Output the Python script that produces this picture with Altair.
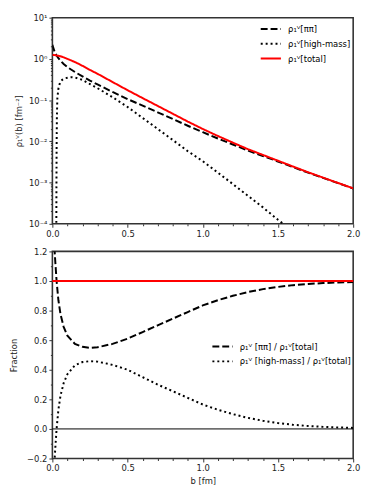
import altair as alt
import pandas as pd

FONT = "DejaVu Sans"

# ---------------- data ----------------
b_top = [0.0, 0.005, 0.01, 0.015, 0.02, 0.028, 0.04, 0.054, 0.075, 0.1, 0.15, 0.2, 0.25, 0.3,
         0.4, 0.5, 0.6, 0.7, 0.8, 0.9, 1.0, 1.1, 1.2, 1.3, 1.4, 1.5, 1.6, 1.7, 1.8, 1.9, 2.0]
rho_total = [1.25, 1.248, 1.242, 1.235, 1.225, 1.21, 1.19, 1.16, 1.09, 1.0, 0.84, 0.68, 0.54, 0.436,
             0.275, 0.174, 0.112, 0.0724, 0.0468, 0.0302, 0.01995, 0.0135, 0.0093, 0.00646, 0.00468,
             0.00339, 0.00245, 0.00178, 0.00132, 0.000977, 0.000724]
rho_pipi = [2.2, 1.9, 1.68, 1.48, 1.37, 1.21, 1.04, 0.9, 0.75, 0.63, 0.48, 0.377, 0.296, 0.241,
            0.158, 0.106, 0.0734, 0.0507, 0.0349, 0.0239, 0.01666, 0.01174, 0.0084, 0.00597, 0.00442,
            0.00325, 0.00238, 0.00174, 0.0013, 0.000967, 0.000719]

b_high = [0.0262, 0.027, 0.028, 0.03, 0.033, 0.04, 0.05, 0.065, 0.087, 0.11, 0.13, 0.15, 0.2, 0.25,
          0.3, 0.4, 0.5, 0.6, 0.7, 0.8, 0.9, 1.0, 1.1, 1.2, 1.3, 1.4, 1.5, 1.55]
rho_high = [0.00008, 0.0008, 0.006, 0.04, 0.11, 0.19, 0.26, 0.31, 0.34, 0.355, 0.36, 0.355, 0.31, 0.245,
            0.195, 0.118, 0.068, 0.037, 0.020, 0.0108, 0.0058, 0.0033, 0.00175, 0.00092, 0.00048,
            0.00025, 0.000125, 0.00009]

b_frac = [0.0, 0.005, 0.01, 0.015, 0.02, 0.028, 0.04, 0.054, 0.075, 0.1, 0.15, 0.2, 0.25, 0.3,
          0.4, 0.5, 0.6, 0.7, 0.8, 0.9, 1.0, 1.1, 1.2, 1.3, 1.4, 1.5, 1.6, 1.7, 1.8, 1.9, 2.0]
frac_pipi = [1.76, 1.52, 1.35, 1.2, 1.12, 1.0, 0.87, 0.775, 0.69, 0.63, 0.575, 0.555, 0.548, 0.552,
             0.575, 0.61, 0.655, 0.70, 0.745, 0.79, 0.835, 0.87, 0.90, 0.925, 0.945, 0.96, 0.972,
             0.98, 0.986, 0.99, 0.993]
frac_high = [-0.76, -0.52, -0.35, -0.2, -0.12, 0.0, 0.13, 0.225, 0.31, 0.37, 0.43, 0.452, 0.458, 0.455,
             0.433, 0.40, 0.35, 0.30, 0.255, 0.21, 0.165, 0.13, 0.10, 0.075, 0.055, 0.04, 0.028,
             0.02, 0.014, 0.01, 0.007]
frac_total = [1.0]
zero_level = [0.0]

top_names = ["ρ₁ⱽ[ππ]", "ρ₁ⱽ[high-mass]", "ρ₁ⱽ[total]"]
bot_names = ["ρ₁ⱽ [ππ] / ρ₁ⱽ[total]", "ρ₁ⱽ [high-mass] / ρ₁ⱽ[total]"]

x_major = [0.0, 0.5, 1.0, 1.5, 2.0]
x_minor = [0.1, 0.2, 0.3, 0.4, 0.6, 0.7, 0.8, 0.9, 1.1, 1.2, 1.3, 1.4, 1.6, 1.7, 1.8, 1.9]
y_log_major = [1e-4, 1e-3, 1e-2, 1e-1, 1.0, 10.0]
y_log_minor = [k * 10.0 ** e for e in range(-4, 1) for k in range(2, 10)]
y_frac_major = [-0.2, 0.0, 0.2, 0.4, 0.6, 0.8, 1.0, 1.2]
y_frac_minor = [-0.1, 0.1, 0.3, 0.5, 0.7, 0.9, 1.1]

# ---------------- tables ----------------
rows = []
for b, v in zip(b_top, rho_pipi):
    rows.append({"b": b, "v": v, "s": top_names[0]})
for b, v in zip(b_high, rho_high):
    rows.append({"b": b, "v": v, "s": top_names[1]})
for b, v in zip(b_top, rho_total):
    rows.append({"b": b, "v": v, "s": top_names[2]})
df_top = pd.DataFrame(rows)

rows = []
for b, v in zip(b_frac, frac_pipi):
    rows.append({"bb": b, "f": v, "r": bot_names[0]})
for b, v in zip(b_frac, frac_high):
    rows.append({"bb": b, "f": v, "r": bot_names[1]})
df_bot = pd.DataFrame(rows)

xscale = alt.Scale(domain=[0, 2], nice=False, zero=False)
yscale_top = alt.Scale(type="log", domain=[1e-4, 10], nice=False)
yscale_bot = alt.Scale(domain=[-0.2, 1.2], nice=False, zero=False)

x_axis_major = alt.Axis(values=x_major, format=".1f", tickSize=3.5, title=None, orient="bottom",
                        labelOverlap=False, labelFlush=False)
x_axis_minor = alt.Axis(values=x_minor, labels=False, tickSize=2, title=None, orient="bottom")

log_expr = ("datum.value >= 5 ? '10¹' : datum.value >= 0.5 ? '10⁰' : datum.value >= 0.05 ? '10⁻¹' : "
            "datum.value >= 0.005 ? '10⁻²' : datum.value >= 0.0005 ? '10⁻³' : '10⁻⁴'")

leg_top = alt.Legend(title=None, orient="none", legendX=210, legendY=6, symbolType="stroke",
                     symbolSize=420, symbolStrokeWidth=2, labelFont=FONT, labelFontSize=8.5,
                     labelFontWeight="normal", rowPadding=4, clipHeight=11, padding=0,
                     labelOffset=6, labelLimit=300)

color_top = alt.Color("s:N", scale=alt.Scale(domain=top_names, range=["black", "black", "red"]),
                      legend=leg_top)
dash_top = alt.StrokeDash("s:N", scale=alt.Scale(domain=top_names, range=[[7, 3], [2, 3], [1, 0]]),
                          legend=leg_top)

top_lines = alt.layer(*[
    alt.Chart(df_top).transform_filter(alt.datum.s == n).mark_line(strokeWidth=2, clip=True).encode(
        x=alt.X("b:Q", scale=xscale, axis=x_axis_major),
        y=alt.Y("v:Q", scale=yscale_top,
                axis=alt.Axis(values=y_log_major, labelExpr=log_expr, tickSize=3.5,
                              title="ρ₁ⱽ(b) [fm⁻²]", titlePadding=5, orient="left",
                              labelOverlap=False, labelFlush=False)),
        color=color_top,
        strokeDash=dash_top,
    )
    for n in top_names
])

top_minor = alt.Chart(df_top).mark_point(opacity=0).encode(
    x=alt.X("b:Q", scale=xscale, axis=x_axis_minor),
    y=alt.Y("v:Q", scale=yscale_top,
            axis=alt.Axis(values=y_log_minor, labels=False, tickSize=2, title=None, orient="left")),
)

top = alt.layer(top_lines, top_minor).resolve_axis(x="independent", y="independent").properties(
    width=305, height=209)

# ---------------- bottom ----------------
leg_bot = alt.Legend(title=None, orient="none", legendX=161, legendY=91, symbolType="stroke",
                     symbolSize=420, symbolStrokeWidth=2, symbolStrokeColor="black",
                     labelFont=FONT, labelFontSize=8.5, labelFontWeight="normal", rowPadding=4,
                     clipHeight=11, padding=0, labelOffset=6, labelLimit=300)
dash_bot = alt.StrokeDash("r:N", scale=alt.Scale(domain=bot_names, range=[[7, 3], [2, 3]]),
                          legend=leg_bot)

y_bot = alt.Y("f:Q", scale=yscale_bot,
              axis=alt.Axis(values=y_frac_major, format=".1f", tickSize=3.5, title="Fraction",
                            labelExpr="replace(datum.label, '-', '−')", titlePadding=8,
                            orient="left", labelOverlap=False, labelFlush=False))
x_bot = alt.X("bb:Q", scale=xscale,
              axis=alt.Axis(values=x_major, format=".1f", tickSize=3.5, title="b [fm]",
                            titlePadding=4, orient="bottom", labelOverlap=False, labelFlush=False))

zero_line = alt.Chart(pd.DataFrame({"f": zero_level})).mark_rule(color="black", strokeWidth=1).encode(
    y=y_bot)
one_line = alt.Chart(pd.DataFrame({"f": frac_total})).mark_rule(color="red", strokeWidth=2).encode(
    y=y_bot)

bot_lines = alt.layer(
    alt.Chart(df_bot).mark_line(strokeWidth=2, clip=True, color="black").encode(
        x=x_bot,
        y=y_bot,
        strokeDash=dash_bot,
        detail="r:N",
    ),
    zero_line,
    one_line,
)

bot_minor = alt.Chart(df_bot).mark_point(opacity=0).encode(
    x=alt.X("bb:Q", scale=xscale, axis=x_axis_minor),
    y=alt.Y("f:Q", scale=yscale_bot,
            axis=alt.Axis(values=y_frac_minor, labels=False, tickSize=2, title=None, orient="left")),
)

bottom = alt.layer(bot_lines, bot_minor).resolve_axis(x="independent", y="independent").properties(
    width=305, height=210)

chart = alt.vconcat(top, bottom, spacing=28, bounds="flush").resolve_scale(
    x="independent", y="independent", color="independent", strokeDash="independent"
).resolve_legend(
    color="independent", strokeDash="independent"
).properties(
    padding={"left": 1, "top": 1, "right": 5, "bottom": 5}
).configure_view(
    stroke="#333333", strokeWidth=1.6
).configure_axis(
    labelFont=FONT, labelFontSize=8.5, labelColor="#222222",
    titleFont=FONT, titleFontSize=8.5, titleColor="#222222", titleFontWeight="normal",
    tickColor="#333333", tickWidth=1, domain=False, grid=False, labelPadding=2,
)

chart.save("out.html", embed_options={"renderer": "svg", "actions": False})
